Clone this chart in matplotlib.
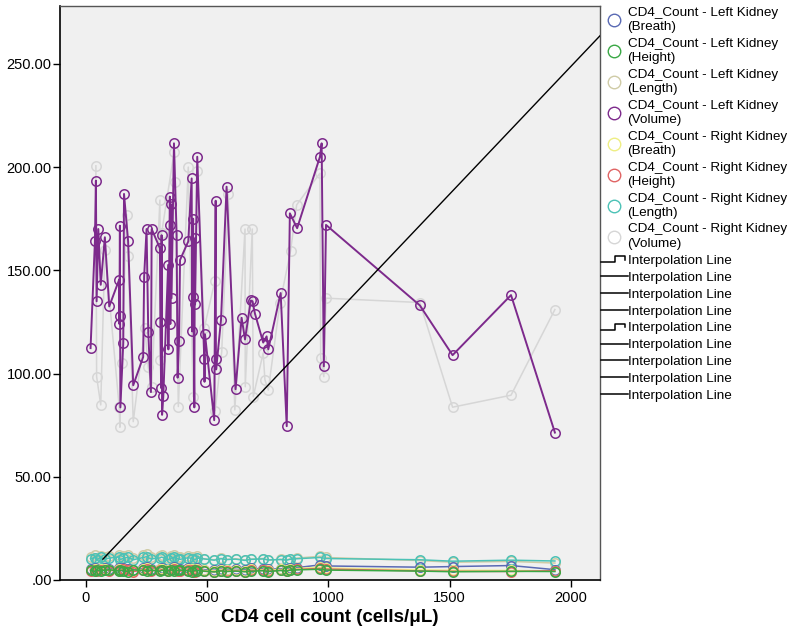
import matplotlib
matplotlib.use("Agg")
import matplotlib.pyplot as plt
from matplotlib.lines import Line2D
from matplotlib.legend_handler import HandlerBase
from matplotlib.ticker import FuncFormatter

plt.rcParams['font.family'] = ['Liberation Sans', 'DejaVu Sans']

# left kidney volume vs CD4 count
vol_l_x = [19, 37, 41, 44, 51, 61, 78, 96, 137, 138, 140, 141, 142, 154, 157, 174, 195,
           236, 240, 250, 257, 268, 271, 305, 307, 310, 312, 314, 319, 339, 340, 346,
           347, 348, 351, 353, 363, 374, 378, 384, 388, 422, 436, 438, 442, 443, 447,
           449, 450, 459, 488, 489, 491, 529, 535, 536, 537, 557, 580, 617, 642, 656,
           680, 687, 697, 731, 745, 752, 803, 828, 841, 871, 965, 972, 981, 990, 1377,
           1512, 1753, 1934]
vol_l_y = [112.3, 164, 193.4, 135, 170, 143, 166, 132.5, 145.5, 124, 171.6, 128, 83.6,
           115, 187, 164, 94.3, 108, 147, 170, 120, 91, 170, 160.7, 125, 93, 167, 80,
           89, 152.6, 111.7, 185.7, 172, 124, 182, 136.5, 211.5, 167, 98, 116, 155, 164,
           194.5, 120.4, 175, 137, 83.6, 165.5, 133.5, 205, 107, 96, 119, 77.4, 183.7,
           107, 102, 126, 190.5, 92.4, 127, 116.5, 135.4, 135, 129, 115, 118, 111.7, 139,
           74.5, 177.6, 170.4, 205, 211.5, 103.5, 172, 133, 108.9, 138, 71.4]

# right kidney volume
vol_r_x = [41, 44, 61, 78, 137, 140, 147, 168, 174, 195, 243, 257, 271, 305, 307, 312,
           364, 367, 381, 422, 442, 460, 488, 532, 533, 560, 587, 614, 656, 657, 686,
           690, 731, 738, 752, 800, 844, 869, 965, 968, 981, 990, 1377, 1512, 1753, 1934]
vol_r_y = [200.6, 98.5, 84.8, 160, 84, 74, 105, 177, 157, 76.7, 122, 103, 93.6, 184,
           106.6, 168, 207.5, 193, 84, 200, 88.8, 198, 122, 145, 82, 110.6, 187, 82.4,
           170, 93.6, 170, 88.8, 110, 97, 92, 134, 159.5, 181.7, 197, 107.7, 98.5, 136.5,
           134.4, 83.7, 89.5, 131]

# the six small measurements share these CD4 counts
small_x = [19, 37, 44, 61, 78, 96, 137, 141, 154, 174, 195,
           236, 250, 268, 305, 312, 339, 351, 363, 378, 388, 422,
           438, 449, 459, 488, 529, 557, 580, 617, 656, 680, 731,
           752, 803, 828, 841, 871, 965, 990, 1377, 1512, 1753, 1934]
breath_l = [5.2, 5.8, 4.9, 5.5, 6.0, 5.3, 5.7, 5.1, 5.9, 5.4, 4.8,
            5.6, 6.1, 5.2, 5.5, 5.9, 5.0, 5.4, 6.2, 5.3, 5.1, 5.7,
            5.5, 4.9, 5.8, 5.0, 4.7, 5.3, 5.0, 5.2, 4.9, 5.6, 5.4,
            5.1, 5.5, 5.2, 5.8, 6.0, 7.3, 6.8, 6.2, 6.5, 7.0, 5.0]
height_l = [4.6, 4.2, 4.9, 4.4, 4.7, 5.0, 4.3, 4.8, 4.5, 4.1, 4.9,
            4.6, 4.4, 4.8, 4.2, 4.7, 4.5, 4.9, 4.3, 4.6, 4.8, 4.4,
            4.1, 4.7, 4.5, 4.3, 3.9, 4.4, 4.1, 4.3, 4.0, 4.2, 4.5,
            4.1, 4.6, 4.3, 4.7, 4.9, 5.2, 4.8, 4.3, 4.0, 4.2, 4.1]
length_l = [11.2, 12.0, 10.5, 11.8, 10.9, 11.5, 12.3, 10.8, 11.6, 12.1, 10.7,
            11.9, 12.4, 11.0, 11.7, 12.2, 10.6, 11.4, 12.0, 11.1, 10.9, 11.8,
            11.3, 10.4, 11.6, 10.2, 9.8, 10.5, 9.9, 10.3, 9.7, 10.1, 10.4,
            9.6, 10.0, 9.8, 10.2, 10.6, 11.5, 10.9, 9.4, 8.6, 9.0, 8.2]
breath_r = [4.8, 5.3, 4.6, 5.1, 5.4, 4.9, 5.2, 4.7, 5.5, 5.0, 4.5,
            5.2, 5.6, 4.8, 5.1, 5.4, 4.6, 5.0, 5.7, 4.9, 4.7, 5.3,
            5.1, 4.5, 5.4, 4.6, 4.4, 4.9, 4.6, 4.8, 4.5, 5.1, 5.0,
            4.7, 5.1, 4.8, 5.3, 5.5, 6.2, 5.8, 4.9, 4.7, 4.6, 4.4]
height_r = [4.4, 4.9, 4.2, 4.7, 5.0, 4.5, 4.8, 4.3, 5.1, 4.6, 4.1,
            4.8, 5.2, 4.4, 4.7, 5.0, 4.2, 4.6, 5.3, 4.5, 4.3, 4.9,
            4.7, 4.1, 5.0, 4.2, 4.0, 4.5, 4.2, 4.4, 4.1, 4.7, 4.6,
            4.3, 4.7, 4.4, 4.9, 5.1, 5.6, 5.3, 4.4, 4.2, 4.1, 4.5]
length_r = [10.3, 10.8, 9.7, 11.0, 10.1, 10.6, 11.2, 9.9, 10.5, 11.0, 9.8,
            10.9, 11.3, 10.2, 10.7, 11.1, 9.9, 10.5, 11.0, 10.3, 10.0, 10.8,
            10.4, 9.8, 10.6, 10.2, 9.6, 10.3, 9.9, 10.1, 9.5, 10.0, 10.2,
            9.7, 9.9, 9.6, 10.0, 10.3, 10.9, 10.4, 9.8, 9.1, 9.6, 9.2]

# reference line end points
ref_x = [70, 2200]
ref_y = [10.1, 273.5]

labels = ['CD4_Count - Left Kidney\n(Breath)', 'CD4_Count - Left Kidney\n(Height)',
          'CD4_Count - Left Kidney\n(Length)', 'CD4_Count - Left Kidney\n(Volume)',
          'CD4_Count - Right Kidney\n(Breath)', 'CD4_Count - Right Kidney\n(Height)',
          'CD4_Count - Right Kidney\n(Length)', 'CD4_Count - Right Kidney\n(Volume)']
colors = ['#5a6ab4', '#3aa845', '#cfcba6', '#7d2a8c',
          '#eeee84', '#e06464', '#4cc2b6', '#d6d6d6']
yticks = [0, 50, 100, 150, 200, 250]
xticks = [0, 500, 1000, 1500, 2000]


class StepHandler(HandlerBase):
    def create_artists(self, legend, orig, xd, yd, w, h, fs, trans):
        y0 = yd + h * 0.2
        y1 = yd + h * 0.8
        xs = [xd, xd + w * 0.55, xd + w * 0.55, xd + w * 0.92, xd + w * 0.92]
        ys = [y0, y0, y1, y1, y1 - h * 0.35]
        ln = Line2D(xs, ys, color='black', lw=1.1, transform=trans)
        return [ln]


fig = plt.figure(figsize=(8, 6.37), dpi=100)
ax = fig.add_axes([0.075, 0.0895, 0.675, 0.901])
ax.set_facecolor('#f0f0f0')

mk = dict(marker='o', markersize=6.8, markerfacecolor='none', markeredgewidth=1.1)

# (values, colour index), green drawn last so it sits on top
small = [(length_l, 2), (length_r, 6), (breath_l, 0), (breath_r, 4),
         (height_r, 5), (height_l, 1)]
for vals, i in small:
    ax.plot(small_x, vals, color=colors[i], lw=1.1, markeredgecolor=colors[i], **mk)

ax.plot(vol_r_x, vol_r_y, color=colors[7], lw=1.1, markeredgecolor=colors[7], **mk)
ax.plot(vol_l_x, vol_l_y, color=colors[3], lw=1.4, markeredgecolor=colors[3], **mk)

ax.plot(ref_x, ref_y, color='black', lw=1.0, zorder=5)

ax.set_xlim(-107, 2120)
ax.set_ylim(0, 278)
ax.set_xticks(xticks)
ax.set_yticks(yticks)
ax.yaxis.set_major_formatter(FuncFormatter(lambda v, p: '.00' if v == 0 else '%.2f' % v))
ax.tick_params(direction='out', length=5, width=1, labelsize=10.5, colors='black')
ax.tick_params(axis='y', pad=1)
ax.tick_params(axis='x', pad=3)
for s in ['left', 'bottom']:
    ax.spines[s].set_color('black')
    ax.spines[s].set_linewidth(1.2)
for s in ['top', 'right']:
    ax.spines[s].set_color('#555555')
    ax.spines[s].set_linewidth(1.0)

ax.set_xlabel('CD4 cell count (cells/\u03bcL)', fontsize=13.5, fontweight='bold', labelpad=3)

leg_handles = []
for i in range(8):
    leg_handles.append(Line2D([], [], linestyle='none', marker='o', markersize=9,
                              markerfacecolor='none', markeredgecolor=colors[i], markeredgewidth=1.0))
step_lines = [0, 4]
hmap = {}
for k in range(9):
    h = Line2D([], [], color='black', lw=1.1)
    if k in step_lines:
        hmap[h] = StepHandler()
    leg_handles.append(h)
leg_labels = labels + ['Interpolation Line'] * 9

leg = ax.legend(leg_handles, leg_labels, loc='upper left', bbox_to_anchor=(1.0, 1.0),
                frameon=False, fontsize=9.7, borderpad=0, borderaxespad=0.05,
                handlelength=2.0, handletextpad=0.0, labelspacing=0.33,
                handler_map=hmap)
for t in leg.get_texts():
    t.set_linespacing(1.28)

fig.savefig('out.png', dpi=100)
